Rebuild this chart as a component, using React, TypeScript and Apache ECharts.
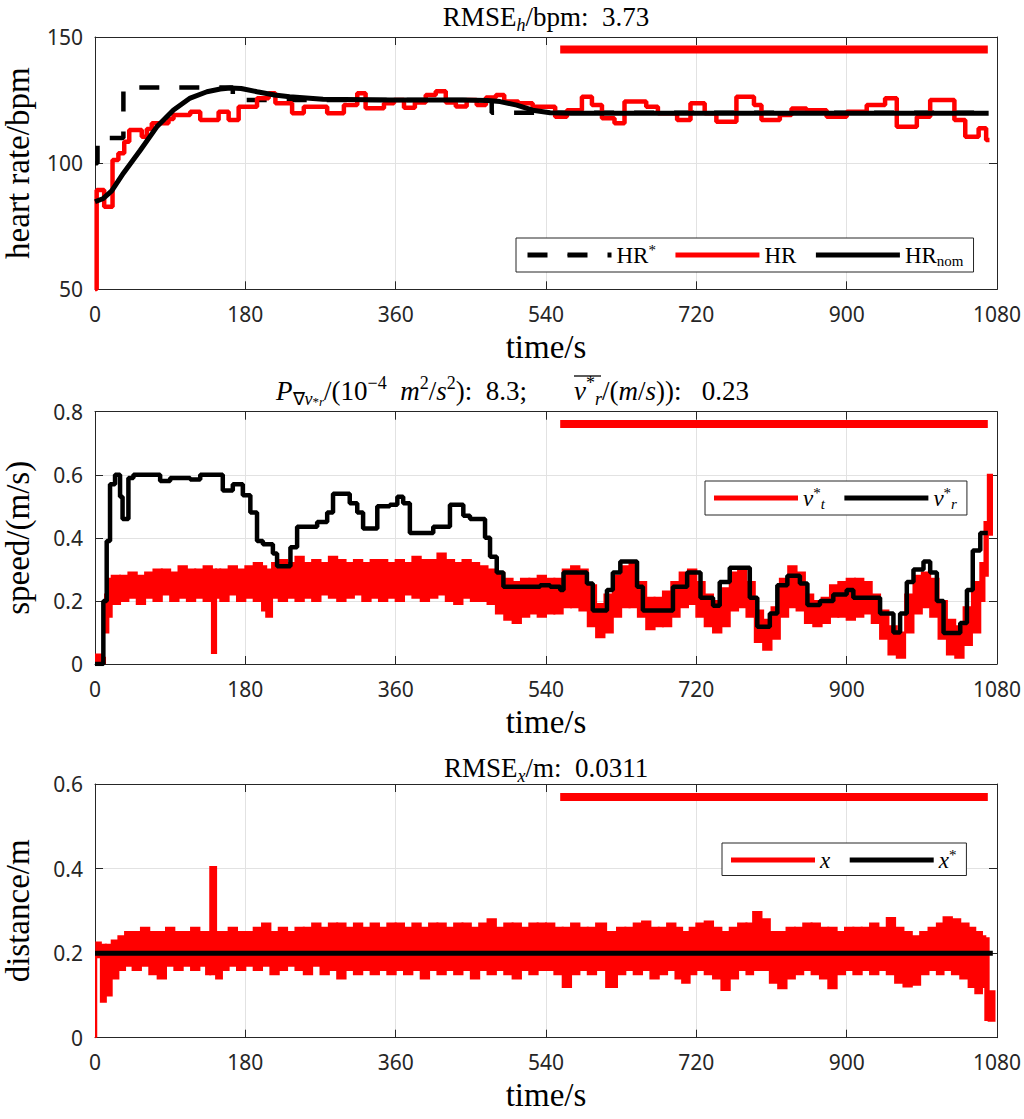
import React, { useEffect, useRef } from "react";
import * as echarts from "echarts";

// ---------------- data ----------------
const timeTicks = [0, 180, 360, 540, 720, 900, 1080];
const hrTicks = [50, 100, 150];
const speedTicks = [0, 0.2, 0.4, 0.6, 0.8];
const distTicks = [0, 0.2, 0.4, 0.6];

// heart rate reference HR* [t, bpm] (held until next t)
const hrReference = [[0, 100], [3, 110], [34, 130], [165, 125], [475, 120], [1070, 120]];
// measured heart rate HR [t, bpm] (held until next t)
const hrMeasured = [
  [0, 50], [2, 89.4], [11, 82.7], [21, 101.2], [28, 103.9], [35, 108.5], [41, 113.1], [56, 110.5],
  [62, 113.5], [68, 115.8], [88, 117.5], [94, 119.1], [114, 120.4], [126, 117.1], [148, 120.4],
  [160, 117.1], [172, 122.4], [194, 125.7], [208, 127.7], [216, 123.7], [236, 119.8], [250, 122.4],
  [278, 119.8], [298, 123], [314, 127.7], [324, 121.8], [346, 123.7], [358, 125], [370, 122],
  [383, 124], [396, 127], [408, 128.5], [420, 124], [432, 122.5], [445, 125], [457, 123], [468, 126],
  [480, 127], [490, 124.4], [507, 123.7], [524, 122.4], [551, 118.4], [565, 121], [583, 126.3],
  [595, 123], [607, 117.8], [622, 115.8], [634, 124.4], [660, 122.4], [674, 119.8], [697, 117.1],
  [713, 123.7], [730, 119.8], [744, 116.4], [768, 126.3], [789, 123], [798, 117.1], [820, 119.1],
  [834, 121.7], [852, 121], [876, 118.4], [900, 120.4], [924, 123], [946, 125.7], [960, 114.4],
  [984, 118.4], [1000, 125], [1029, 117.1], [1042, 110.5], [1058, 113.8], [1067, 109.2], [1071, 109.2],
];
// nominal heart rate HR_nom [t, bpm]
const hrNominal = [
  [0, 84.7], [10, 86], [20, 89], [34, 96], [54, 105], [74, 114.4], [94, 121.1], [114, 125.8],
  [134, 128.3], [150, 129.4], [162, 129.8], [175, 129.6], [194, 128.3], [215, 127], [233, 126.3],
  [273, 125.3], [353, 125], [440, 125], [470, 124.8], [485, 124.4], [505, 123], [524, 121],
  [545, 120], [570, 119.8], [1070, 119.8],
];
// reference speed v_r* [t, m/s] (held until next t)
const vrRef = [
  [0, 0], [10, 0.2], [14, 0.39], [18, 0.57], [24, 0.6], [30, 0.53], [33, 0.46], [40, 0.59], [46, 0.6],
  [78, 0.58], [90, 0.59], [114, 0.585], [126, 0.6], [153, 0.55], [165, 0.57], [177, 0.535], [186, 0.48],
  [194, 0.39], [201, 0.38], [213, 0.35], [218, 0.31], [234, 0.37], [242, 0.435], [266, 0.45], [278, 0.48],
  [285, 0.54], [305, 0.51], [314, 0.48], [321, 0.43], [338, 0.5], [353, 0.505], [362, 0.53], [369, 0.51],
  [377, 0.415], [405, 0.435], [425, 0.505], [441, 0.47], [449, 0.46], [467, 0.4], [473, 0.34], [481, 0.29],
  [489, 0.245], [533, 0.25], [545, 0.245], [557, 0.235], [561, 0.29], [589, 0.255], [596, 0.17], [613, 0.235],
  [620, 0.29], [629, 0.325], [649, 0.245], [656, 0.17], [692, 0.245], [709, 0.29], [725, 0.21], [740, 0.185],
  [748, 0.26], [760, 0.305], [784, 0.21], [793, 0.118], [808, 0.16], [817, 0.25], [829, 0.28], [844, 0.255],
  [853, 0.187], [868, 0.2], [884, 0.22], [900, 0.235], [908, 0.21], [940, 0.16], [956, 0.1], [964, 0.16],
  [972, 0.26], [980, 0.3], [992, 0.325], [1000, 0.29], [1008, 0.2], [1016, 0.098], [1036, 0.13],
  [1044, 0.235], [1051, 0.36], [1060, 0.415], [1069, 0.415],
];
// target speed v_t* envelope [t, low, high] (last row only closes the previous span)
const vtBand = [
  [0, 0, 0.03], [8, 0, 0.02], [12, 0.1, 0.22], [16, 0.15, 0.27], [20, 0.19, 0.28], [30, 0.2, 0.28],
  [40, 0.21, 0.29], [50, 0.19, 0.28], [60, 0.21, 0.29], [70, 0.2, 0.3], [80, 0.22, 0.3], [90, 0.2, 0.29],
  [100, 0.21, 0.31], [110, 0.2, 0.3], [120, 0.21, 0.3], [130, 0.2, 0.31], [140, 0.035, 0.3], [145, 0.21, 0.3],
  [150, 0.2, 0.3], [160, 0.22, 0.31], [170, 0.2, 0.3], [180, 0.21, 0.31], [190, 0.2, 0.32], [200, 0.17, 0.31],
  [205, 0.15, 0.3], [212, 0.21, 0.32], [220, 0.2, 0.33], [230, 0.21, 0.32], [240, 0.2, 0.34], [250, 0.21, 0.32],
  [260, 0.2, 0.33], [270, 0.22, 0.32], [280, 0.21, 0.34], [290, 0.2, 0.33], [300, 0.21, 0.32], [310, 0.22, 0.33],
  [320, 0.2, 0.32], [330, 0.21, 0.33], [340, 0.2, 0.33], [350, 0.21, 0.32], [360, 0.2, 0.33], [370, 0.22, 0.32],
  [380, 0.21, 0.34], [390, 0.2, 0.33], [400, 0.21, 0.33], [410, 0.22, 0.35], [420, 0.2, 0.33], [430, 0.19, 0.32],
  [440, 0.21, 0.33], [450, 0.2, 0.32], [460, 0.2, 0.31], [470, 0.19, 0.3], [480, 0.16, 0.29], [490, 0.14, 0.27],
  [500, 0.13, 0.26], [510, 0.15, 0.27], [520, 0.16, 0.27], [530, 0.15, 0.28], [540, 0.16, 0.27], [550, 0.16, 0.27],
  [560, 0.18, 0.3], [570, 0.18, 0.31], [580, 0.17, 0.3], [590, 0.12, 0.25], [600, 0.085, 0.19], [610, 0.1, 0.22],
  [620, 0.15, 0.28], [630, 0.18, 0.31], [640, 0.18, 0.32], [650, 0.15, 0.26], [660, 0.11, 0.21], [670, 0.12, 0.21],
  [680, 0.12, 0.23], [690, 0.15, 0.26], [700, 0.18, 0.29], [710, 0.19, 0.3], [720, 0.15, 0.26], [730, 0.12, 0.22],
  [740, 0.1, 0.2], [750, 0.12, 0.24], [760, 0.17, 0.29], [770, 0.18, 0.3], [780, 0.15, 0.26], [790, 0.07, 0.17],
  [800, 0.045, 0.14], [810, 0.08, 0.18], [820, 0.15, 0.27], [830, 0.18, 0.31], [840, 0.17, 0.29], [850, 0.13, 0.22],
  [860, 0.12, 0.2], [870, 0.13, 0.21], [880, 0.15, 0.25], [890, 0.15, 0.26], [900, 0.14, 0.27], [910, 0.15, 0.27],
  [920, 0.16, 0.26], [930, 0.13, 0.22], [940, 0.08, 0.17], [950, 0.03, 0.12], [960, 0.02, 0.1], [970, 0.1, 0.22],
  [980, 0.16, 0.28], [990, 0.18, 0.29], [1000, 0.15, 0.27], [1010, 0.08, 0.2], [1020, 0.03, 0.14], [1030, 0.02, 0.12],
  [1040, 0.06, 0.18], [1050, 0.1, 0.26], [1060, 0.2, 0.32], [1065, 0.28, 0.45], [1069, 0.41, 0.6], [1074, 0.41, 0.6],
];
// distance x envelope [t, low, high] (last row only closes the previous span)
const xBand = [
  [0, 0, 0.2], [1.5, 0.19, 0.225], [7, 0.085, 0.22], [13, 0.1, 0.22], [20, 0.14, 0.23], [28, 0.16, 0.24],
  [36, 0.17, 0.25], [45, 0.16, 0.25], [55, 0.17, 0.26], [65, 0.15, 0.25], [75, 0.14, 0.25], [85, 0.17, 0.26],
  [95, 0.16, 0.25], [105, 0.17, 0.25], [115, 0.16, 0.26], [125, 0.17, 0.25], [133, 0.15, 0.25], [138, 0.15, 0.404],
  [145, 0.14, 0.25], [152, 0.16, 0.25], [160, 0.17, 0.26], [170, 0.16, 0.25], [180, 0.17, 0.25], [190, 0.16, 0.26],
  [200, 0.17, 0.27], [210, 0.15, 0.25], [220, 0.16, 0.26], [230, 0.17, 0.25], [240, 0.16, 0.26], [250, 0.15, 0.26],
  [260, 0.17, 0.27], [270, 0.15, 0.26], [280, 0.16, 0.27], [290, 0.14, 0.27], [300, 0.16, 0.26], [310, 0.15, 0.27],
  [320, 0.16, 0.26], [330, 0.15, 0.27], [340, 0.16, 0.26], [350, 0.15, 0.27], [360, 0.16, 0.27], [370, 0.15, 0.26],
  [380, 0.16, 0.27], [390, 0.14, 0.26], [400, 0.16, 0.27], [410, 0.15, 0.27], [420, 0.16, 0.26], [430, 0.15, 0.27],
  [440, 0.16, 0.27], [450, 0.14, 0.26], [460, 0.16, 0.27], [470, 0.15, 0.28], [480, 0.16, 0.26], [490, 0.15, 0.27],
  [500, 0.14, 0.27], [510, 0.16, 0.26], [520, 0.15, 0.27], [530, 0.16, 0.27], [540, 0.16, 0.27], [550, 0.15, 0.26],
  [560, 0.12, 0.26], [570, 0.15, 0.27], [580, 0.16, 0.26], [590, 0.15, 0.26], [600, 0.16, 0.27], [612, 0.12, 0.25],
  [625, 0.15, 0.26], [635, 0.16, 0.26], [645, 0.15, 0.27], [655, 0.16, 0.275], [665, 0.14, 0.26], [675, 0.15, 0.26],
  [685, 0.16, 0.27], [695, 0.14, 0.26], [703, 0.13, 0.25], [712, 0.15, 0.26], [720, 0.16, 0.27], [730, 0.15, 0.275],
  [740, 0.14, 0.26], [750, 0.113, 0.25], [760, 0.14, 0.26], [770, 0.16, 0.27], [780, 0.15, 0.27], [788, 0.16, 0.297],
  [798, 0.16, 0.28], [808, 0.13, 0.25], [818, 0.117, 0.25], [828, 0.14, 0.26], [838, 0.15, 0.26], [848, 0.16, 0.27],
  [858, 0.15, 0.27], [868, 0.14, 0.26], [878, 0.117, 0.26], [888, 0.15, 0.25], [898, 0.16, 0.26], [908, 0.15, 0.26],
  [918, 0.16, 0.26], [928, 0.15, 0.27], [938, 0.16, 0.26], [948, 0.15, 0.283], [958, 0.13, 0.26], [968, 0.121, 0.25],
  [978, 0.125, 0.24], [988, 0.15, 0.25], [998, 0.16, 0.26], [1008, 0.15, 0.27], [1016, 0.16, 0.285], [1026, 0.15, 0.28],
  [1036, 0.14, 0.27], [1046, 0.12, 0.26], [1054, 0.105, 0.25], [1062, 0.12, 0.24], [1066, 0.042, 0.235],
  [1070, 0.04, 0.11], [1077, 0.04, 0.11],
];
// reference distance x* [t, m]
const xRef = [[0, 0.2], [1075, 0.2]];
// time span of the red marker bar and its level in each panel
const markerSpan = [557, 1069];
const markerLevels = [145, 0.761, 0.569];

// ---------------- styling ----------------
const RED = "#ff0000";
const BLACK = "#000000";
const AX = "#262626";
const GRID = "#e2e2e2";
const SERIF = "Liberation Serif";
const SANS = "Noto Sans";

const gridTops = [37, 411.7, 784];
const gridHeights = [252.3, 252.3, 253.7];
const yNames = ["heart rate/bpm", "speed/(m/s)", "distance/m"];
const yTicksList = [hrTicks, speedTicks, distTicks];

const TF = 27; // title font size
const titleRich: any = {
  n: { fontFamily: SERIF, fontSize: TF, lineHeight: 34, verticalAlign: "middle", color: BLACK },
  it: { fontFamily: SERIF, fontSize: TF, fontStyle: "italic", lineHeight: 34, verticalAlign: "middle", color: BLACK },
  sub: { fontFamily: SERIF, fontSize: 18, lineHeight: 17, verticalAlign: "bottom", color: BLACK },
  subit: { fontFamily: SERIF, fontSize: 18, fontStyle: "italic", lineHeight: 17, verticalAlign: "bottom", color: BLACK },
  sup: { fontFamily: SERIF, fontSize: 18, lineHeight: 17, verticalAlign: "top", color: BLACK },
  ssup: { fontFamily: SERIF, fontSize: 13, lineHeight: 23, verticalAlign: "bottom", color: BLACK },
  ssubit: { fontFamily: SERIF, fontSize: 13, fontStyle: "italic", lineHeight: 9, verticalAlign: "bottom", color: BLACK },
};

const LF = 23; // legend font size
const legendRich: any = {
  n: { fontFamily: SERIF, fontSize: LF, lineHeight: 26, verticalAlign: "middle", color: BLACK },
  it: { fontFamily: SERIF, fontSize: LF, fontStyle: "italic", lineHeight: 26, verticalAlign: "middle", color: BLACK },
  sub: { fontFamily: SERIF, fontSize: 15, lineHeight: 13, verticalAlign: "bottom", color: BLACK },
  subit: { fontFamily: SERIF, fontSize: 15, fontStyle: "italic", lineHeight: 13, verticalAlign: "bottom", color: BLACK },
  sup: { fontFamily: SERIF, fontSize: 15, lineHeight: 15, verticalAlign: "top", color: BLACK },
};

const legendLabels: Record<string, string> = {
  "HR*": "{n|HR}{sup|*}",
  HR: "{n|HR}",
  HR_nom: "{n|HR}{sub|nom}",
  "v_t*": "{it|v}{sup|*}{subit|t}",
  "v_r*": "{it|v}{sup|*}{subit|r}",
  x: "{it|x}",
  "x*": "{it|x}{sup|*}",
};

function textEl(x: number, y: number, text: string, align: string) {
  return {
    type: "text",
    x,
    y,
    silent: true,
    style: {
      text,
      rich: titleRich,
      fill: BLACK,
      align,
      textAlign: align,
      verticalAlign: "middle",
      textVerticalAlign: "middle",
      fontFamily: SERIF,
      fontSize: TF,
    },
  };
}

function buildOption() {
  const xAxes: any[] = [];
  const yAxes: any[] = [];
  const grids: any[] = [];
  for (let i = 0; i < 3; i++) {
    grids.push({
      left: 95, width: 902, top: gridTops[i], height: gridHeights[i],
      containLabel: false, outerBoundsMode: "none",
    });
    const tickCommon = { show: true, inside: true, length: 8, lineStyle: { color: AX, width: 1 } };
    const lineCommon = { show: true, onZero: false, lineStyle: { color: AX, width: 1 } };
    xAxes.push({
      gridIndex: i, type: "value", position: "bottom",
      min: timeTicks[0], max: timeTicks[timeTicks.length - 1], interval: timeTicks[1] - timeTicks[0],
      axisLine: lineCommon, axisTick: tickCommon,
      axisLabel: { color: AX, fontFamily: SANS, fontSize: 21, margin: 14, formatter: (v: number) => String(v) },
      splitLine: { show: true, lineStyle: { color: GRID, width: 1 } },
      name: "time/s", nameLocation: "middle", nameGap: 41,
      nameTextStyle: { fontFamily: SERIF, fontSize: 33, color: BLACK },
    });
    xAxes.push({
      gridIndex: i, type: "value", position: "top",
      min: timeTicks[0], max: timeTicks[timeTicks.length - 1], interval: timeTicks[1] - timeTicks[0],
      axisLine: lineCommon, axisTick: tickCommon,
      axisLabel: { show: false }, splitLine: { show: false },
    });
    const yt = yTicksList[i];
    yAxes.push({
      gridIndex: i, type: "value", position: "left",
      min: yt[0], max: yt[yt.length - 1], interval: yt[1] - yt[0],
      axisLine: lineCommon, axisTick: tickCommon,
      axisLabel: { color: AX, fontFamily: SANS, fontSize: 21, margin: 12, formatter: (v: number) => String(v) },
      splitLine: { show: true, lineStyle: { color: GRID, width: 1 } },
      name: yNames[i], nameLocation: "middle", nameGap: 61,
      nameTextStyle: { fontFamily: SERIF, fontSize: 33, color: BLACK },
    });
    yAxes.push({
      gridIndex: i, type: "value", position: "right",
      min: yt[0], max: yt[yt.length - 1], interval: yt[1] - yt[0],
      axisLine: lineCommon, axisTick: tickCommon,
      axisLabel: { show: false }, splitLine: { show: false },
    });
  }

  const lineSeries = (name: string, data: number[][], p: number, color: string, width: number, extra: any = {}) => ({
    type: "line", name, data, xAxisIndex: 2 * p, yAxisIndex: 2 * p,
    symbol: "none", showSymbol: false, silent: true,
    itemStyle: { color },
    lineStyle: { color, width, ...(extra.lineStyle || {}) },
    ...(extra.step ? { step: extra.step } : {}),
  });

  const bandSeries = (name: string, rows: number[][], p: number) => ({
    type: "custom", name, xAxisIndex: 2 * p, yAxisIndex: 2 * p, clip: true, silent: true,
    data: rows.slice(0, -1).map((r, i) => [r[0], rows[i + 1][0], r[1], r[2]]),
    encode: { x: [0, 1], y: [2, 3] },
    itemStyle: { color: RED },
    renderItem: (params: any, api: any) => {
      const a = api.coord([api.value(0), api.value(3)]);
      const b = api.coord([api.value(1), api.value(2)]);
      return {
        type: "rect",
        shape: { x: a[0], y: a[1], width: b[0] - a[0], height: b[1] - a[1] },
        style: { fill: RED, stroke: RED, lineWidth: 2 },
      };
    },
  });

  const marker = (p: number) =>
    lineSeries("", [[markerSpan[0], markerLevels[p]], [markerSpan[1], markerLevels[p]]], p, RED, 8);

  const series: any[] = [
    lineSeries("HR*", hrReference, 0, BLACK, 4.5, { step: "end", lineStyle: { type: [20, 20] } }),
    lineSeries("HR", hrMeasured, 0, RED, 4.5, { step: "end" }),
    lineSeries("HR_nom", hrNominal, 0, BLACK, 5),
    marker(0),
    bandSeries("v_t*", vtBand, 1),
    lineSeries("v_r*", vrRef, 1, BLACK, 4.5, { step: "end" }),
    marker(1),
    bandSeries("x", xBand, 2),
    lineSeries("x*", xRef, 2, BLACK, 5),
    marker(2),
  ];

  const legendCommon = {
    orient: "horizontal",
    itemWidth: 84,
    itemHeight: 5,
    itemGap: 17,
    padding: [4, 10, 4, 9],
    borderColor: AX,
    borderWidth: 1,
    borderRadius: 0,
    backgroundColor: "#ffffff",
    selectedMode: false,
    lineStyle: { width: 5 },
    formatter: (name: string) => legendLabels[name] || name,
    textStyle: { fontFamily: SERIF, fontSize: LF, color: BLACK, rich: legendRich },
  };

  const legends = [
    { ...legendCommon, left: 516, top: 238, data: ["HR*", "HR", "HR_nom"] },
    { ...legendCommon, left: 705, top: 481, data: [{ name: "v_t*", icon: "rect" }, "v_r*"] },
    { ...legendCommon, left: 722, top: 843, data: [{ name: "x", icon: "rect" }, "x*"] },
  ];

  const graphic = [
    textEl(546, 17, "{n|RMSE}{subit|h}{n|/bpm:  3.73}", "center"),
    textEl(527, 391, "{it|P}{sub|∇}{subit|v}{ssup|*}{ssubit|r}{n|/(10}{sup|−4}{n|  }{it|m}{sup|2}{n|/}{it|s}{sup|2}{n|):  8.3;}", "right"),
    textEl(574, 391, "{it|v}{sup|*}{subit|r}{n|/(}{it|m}{n|/}{it|s}{n|)):   0.23}", "left"),
    {
      type: "line", silent: true,
      shape: { x1: 574, y1: 376, x2: 601, y2: 376 },
      style: { stroke: BLACK, lineWidth: 1.3 },
    },
    textEl(546, 768, "{n|RMSE}{subit|x}{n|/m:  0.0311}", "center"),
  ];

  return {
    animation: false,
    backgroundColor: "#ffffff",
    grid: grids,
    xAxis: xAxes,
    yAxis: yAxes,
    legend: legends,
    series,
    graphic,
  };
}

export default function App() {
  const ref = useRef<HTMLDivElement>(null);
  useEffect(() => {
    if (!ref.current) return;
    const chart = echarts.init(ref.current, null, { renderer: "svg" });
    chart.setOption(buildOption() as any);
    return () => chart.dispose();
  }, []);
  return (
    <div
      ref={ref}
      style={{ position: "absolute", left: 0, top: 0, width: 1024, height: 1119, background: "#fff" }}
    />
  );
}
